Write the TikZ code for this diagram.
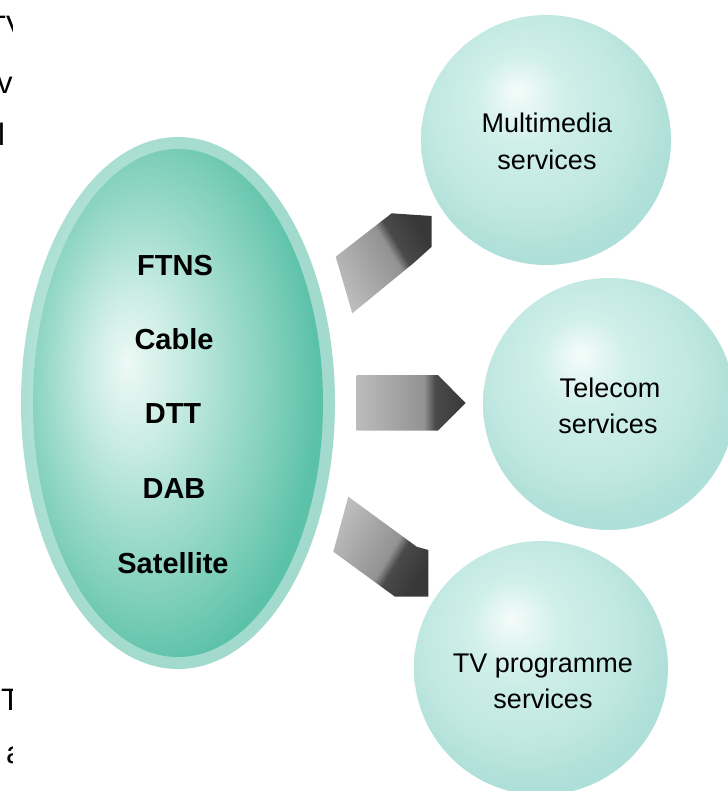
\documentclass[tikz,border=0pt]{standalone}
\usepackage{fontspec}
\setmainfont{Liberation Sans}
\usetikzlibrary{shapes.geometric}
\definecolor{cirHL}{HTML}{F5FCFA}
\definecolor{cirMid}{HTML}{D0EFE9}
\definecolor{cirLow}{HTML}{C0E8E1}
\definecolor{cirEdge}{HTML}{AEDFD8}
\definecolor{ellHL}{HTML}{EEF9F6}
\definecolor{ellA}{HTML}{C8ECE2}
\definecolor{ellB}{HTML}{A2DDCE}
\definecolor{ellC}{HTML}{7ECFBA}
\definecolor{ellD}{HTML}{5CC1A9}
\definecolor{rimIn}{HTML}{CBEDE5}
\definecolor{rimOut}{HTML}{A2DBCD}
\definecolor{arL}{HTML}{BCBCBC}
\definecolor{arM}{HTML}{929292}
\definecolor{arD}{HTML}{4A4A4A}
\definecolor{arE}{HTML}{383838}
\pgfdeclareradialshading{circsh}{\pgfpoint{-6bp}{10bp}}{color(0bp)=(cirHL); color(9bp)=(cirMid); color(20bp)=(cirLow); color(28bp)=(cirEdge); color(50bp)=(cirEdge)}
\pgfdeclareradialshading{ellsh}{\pgfpoint{-9bp}{4bp}}{color(0bp)=(ellHL); color(8bp)=(ellA); color(15bp)=(ellB); color(22bp)=(ellC); color(28bp)=(ellD); color(50bp)=(ellD)}
\pgfdeclareradialshading{rimsh}{\pgfpoint{-9bp}{4bp}}{color(0bp)=(rimIn); color(26bp)=(rimOut); color(50bp)=(rimOut)}
\pgfdeclarehorizontalshading{arrowsh}{100bp}{color(0bp)=(arL); color(25bp)=(arL); color(56bp)=(arM); color(61bp)=(arD); color(75bp)=(arE); color(100bp)=(arE)}
\begin{document}
\begin{tikzpicture}[x=1bp,y=-1bp,
  svc/.style={font=\fontsize{27bp}{36bp}\selectfont, anchor=base, inner sep=0pt},
  med/.style={font=\bfseries\fontsize{29bp}{36bp}\selectfont, anchor=base, inner sep=0pt},
  frag/.style={font=\fontsize{31bp}{36bp}\selectfont, anchor=base west, inner sep=0pt},
  ball/.style={circle, inner sep=0pt, draw=none, shade, shading=circsh},
  arrowshape/.style={shade, shading=arrowsh}]
\useasboundingbox (0,0) rectangle (728,791);

% left edge text fragments (cut off in the reference)
\begin{scope}
  \clip (0,0) rectangle (12,791);
  \node[frag] (f1) at (-13,38) {TV};
  \node[frag] (f2) at (-3,93) {v};
  \node[frag] (f3) at (-2,145) {l};
  \node[frag] (f4) at (1,710) {T};
  \node[frag] (f5) at (6,763) {a};
\end{scope}

% source ellipse
\node[ellipse, inner sep=0pt, minimum width=314bp, minimum height=532bp, shade, shading=rimsh] (rim) at (178,403) {};
\node[ellipse, inner sep=0pt, minimum width=290bp, minimum height=508bp, shade, shading=ellsh] (src) at (178,403) {};

% service circles
\node[ball, minimum size=250bp] (mm) at (546,140) {};
\node[ball, minimum size=252bp] (tc) at (609,404) {};
\node[ball, minimum size=254bp] (tv) at (541,668) {};

% arrows
\path[arrowshape, shading angle=31] (335.7,256.7) -- (352.3,313.3) -- (414,262.7) -- (431.7,246.7) -- (431.7,216) -- (391.7,213.3) -- cycle;
\path[arrowshape] (356.7,375) -- (438,375) -- (465.5,403) -- (438,430.5) -- (356.7,430.5) -- cycle;
\path[arrowshape, shading angle=-31] (348.3,496.7) -- (333.3,551.7) -- (395,596.7) -- (428.3,596.7) -- (428.3,550) -- (416.7,546.7) -- cycle;

% ellipse texts
\node[med] (t1) at (175,275) {FTNS};
\node[med] (t2) at (174,349) {Cable};
\node[med] (t3) at (173,423) {DTT};
\node[med] (t4) at (174,498) {DAB};
\node[med] (t5) at (173,573) {Satellite};

% circle texts
\node[svc] (mm1) at (547,132) {Multimedia};
\node[svc] (mm2) at (547,169) {services};
\node[svc] (tc1) at (610,397) {Telecom};
\node[svc] (tc2) at (608,433) {services};
\node[svc] (tv1) at (543,672) {TV programme};
\node[svc] (tv2) at (543,708) {services};
\end{tikzpicture}
\end{document}
